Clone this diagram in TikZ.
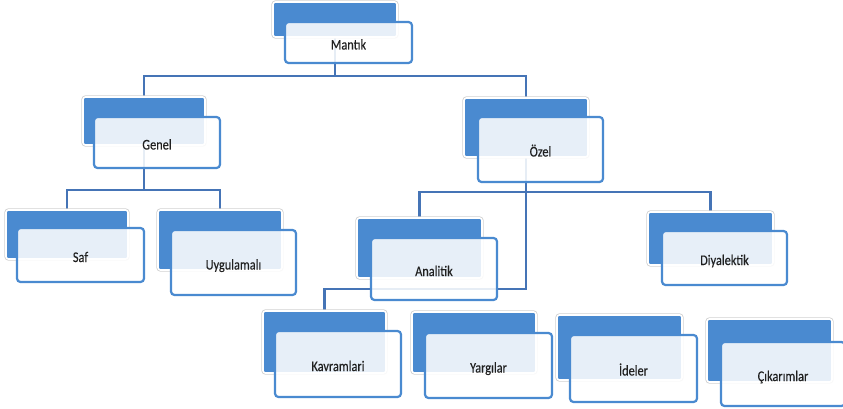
\documentclass[tikz,border=0pt]{standalone}
\usepackage{fontspec}
\setmainfont{Carlito}
\newfontfamily\lblfont{Carlito}[FakeBold=0.35]
\usetikzlibrary{backgrounds}
\definecolor{sablue}{HTML}{4A8AD0}
\definecolor{saline}{HTML}{4574B6}
\definecolor{satext}{HTML}{202020}
\newcommand{\tallt}[1]{\scalebox{1}[1.2]{#1}}
\tikzset{
  backbox/.style={rectangle, rounded corners=2.5pt, inner sep=0pt,
    fill=sablue, draw=white, line width=1.6pt,
    preaction={draw=black!18, line width=3.2pt}},
  frontbox/.style={rectangle, rounded corners=3.5pt, inner sep=0pt,
    fill=white, fill opacity=0.87, text opacity=1, draw=sablue, line width=2.2pt,
    text=satext, font=\lblfont\fontsize{12.3}{14}\selectfont,
    text height=15pt, text depth=1pt},
  conn/.style={draw=saline, line width=2.8pt},
}
\begin{document}
\begin{tikzpicture}[x=1pt,y=-1pt]
\useasboundingbox (0,0) rectangle (843,409);
% Mantik
\node[backbox, minimum width=124pt, minimum height=35pt] (mantikB) at (335,19.5) {};
\node[frontbox, minimum width=127pt, minimum height=41pt] (mantik) at (348.5,42.5) {\tallt{Mantık}};
% Genel
\node[backbox, minimum width=122pt, minimum height=48pt] (genelB) at (144,121) {};
\node[frontbox, minimum width=126pt, minimum height=51pt] (genel) at (157,142.5) {\tallt{Genel}};
% Ozel
\node[backbox, minimum width=124pt, minimum height=59pt] (ozelB) at (526,127.5) {};
\node[frontbox, minimum width=125pt, minimum height=65pt] (ozel) at (540.5,149.5) {\tallt{Özel}};
% Saf
\node[backbox, minimum width=122pt, minimum height=49pt] (safB) at (67,234.5) {};
\node[frontbox, minimum width=127pt, minimum height=54pt] (saf) at (80.5,255) {\tallt{Saf}};
% Uygulamali
\node[backbox, minimum width=124pt, minimum height=60pt] (uygB) at (220,240) {};
\node[frontbox, minimum width=125pt, minimum height=65pt] (uyg) at (233.5,262.5) {\tallt{Uygulamalı}};
% Analitik
\node[backbox, minimum width=125pt, minimum height=60pt] (anaB) at (419.5,248) {};
\node[frontbox, minimum width=126pt, minimum height=62pt] (ana) at (434,269) {\tallt{Analitik}};
% Diyalektik
\node[backbox, minimum width=125pt, minimum height=53pt] (diyB) at (710.5,238.5) {};
\node[frontbox, minimum width=125pt, minimum height=54pt] (diy) at (724.5,258) {\tallt{Diyalektik}};
% Kavramlari
\node[backbox, minimum width=123pt, minimum height=62pt] (kavB) at (324.5,342) {};
\node[frontbox, minimum width=126pt, minimum height=66pt] (kav) at (338,364) {\tallt{Kavramlari}};
% Yargilar
\node[backbox, minimum width=124pt, minimum height=61pt] (yarB) at (474,342.5) {};
\node[frontbox, minimum width=127pt, minimum height=65pt] (yar) at (488.5,365.5) {\tallt{Yargılar}};
% Ideler
\node[backbox, minimum width=125pt, minimum height=65pt] (ideB) at (619.5,347.5) {};
\node[frontbox, minimum width=127pt, minimum height=67pt] (ide) at (633.5,368.5) {\tallt{İdeler}};
% Cikarimlar
\node[backbox, minimum width=125pt, minimum height=63pt] (cikB) at (769.5,350.5) {};
\node[frontbox, minimum width=124pt, minimum height=64pt] (cik) at (783,374) {\tallt{Çıkarımlar}};
% connectors
\coordinate (bus1) at (335,76);
\coordinate (bus2) at (144,190);
\coordinate (bus3) at (526,192);
\coordinate (bus4) at (526,289);
\begin{scope}[on background layer]
\fill[white] (0,0) rectangle (843,409);
\draw[conn] (mantikB.center) -- (bus1);
\draw[conn] (genelB.north) |- (bus1) -| (ozelB.north);
\draw[conn] (genelB.center) -- (bus2);
\draw[conn] (safB.north) |- (bus2) -| (uygB.north);
\draw[conn] (ozelB.center) -- (bus3);
\draw[conn] (anaB.north) |- (bus3) -| (diyB.north);
\draw[conn] (ozelB.center) -- (bus4) -| (kavB.north);
\end{scope}
\end{tikzpicture}
\end{document}
